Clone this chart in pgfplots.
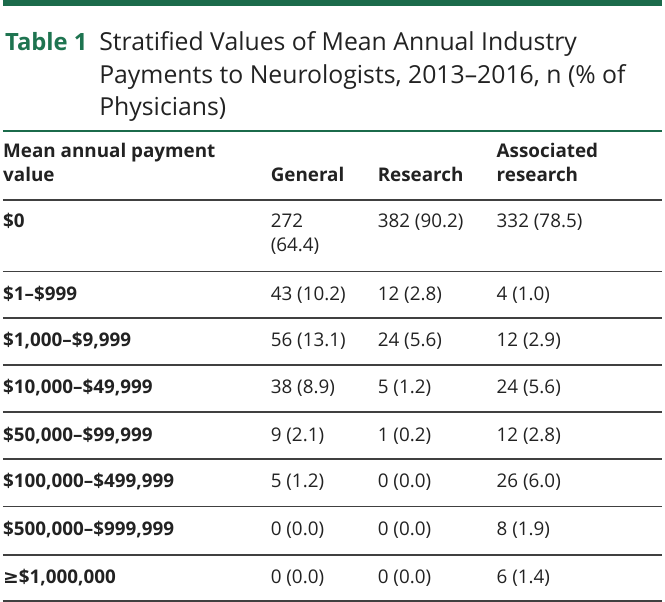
\documentclass[border=0pt]{standalone}
\usepackage{pgfplots}
\pgfplotsset{compat=1.18}
\usepackage{fontspec}
\setmainfont{Open Sans}
\newfontfamily\symfont{DejaVu Sans}
\definecolor{jgreen}{HTML}{1B6B4B}
\definecolor{tgreen}{HTML}{1E7450}
\definecolor{rule}{HTML}{404040}
\definecolor{txt}{HTML}{222222}
\begin{document}
\begin{tikzpicture}
\begin{axis}[width=665bp, height=608bp, scale only axis,
  xmin=0, xmax=665, ymin=0, ymax=608, y dir=reverse,
  hide axis, clip=false]
% rules
\addplot[jgreen, line width=6bp] coordinates {(0,3) (665,3)};
\addplot[jgreen, line width=2bp] coordinates {(0,132) (665,132)};
\addplot[rule, line width=1.8bp] coordinates {(0,202) (665,202)};
\addplot[rule, line width=1.8bp] coordinates {(0,274) (665,274)};
\addplot[rule, line width=1.8bp] coordinates {(0,321) (665,321)};
\addplot[rule, line width=1.8bp] coordinates {(0,368) (665,368)};
\addplot[rule, line width=1.8bp] coordinates {(0,416) (665,416)};
\addplot[rule, line width=1.8bp] coordinates {(0,463) (665,463)};
\addplot[rule, line width=1.8bp] coordinates {(0,511) (665,511)};
\addplot[rule, line width=1.8bp] coordinates {(0,560) (665,560)};
\addplot[rule, line width=1.8bp] coordinates {(0,606.5) (665,606.5)};
% title
\addplot[draw=none, nodes near coords, point meta=explicit symbolic,
  every node near coord/.style={anchor=base west, inner sep=0pt, text=tgreen, font=\fontsize{24bp}{28bp}\selectfont\bfseries}]
  table[col sep=semicolon, meta=t] {
x;y;t
2;51;Table 1
};
\addplot[draw=none, nodes near coords, point meta=explicit symbolic,
  every node near coord/.style={anchor=base west, inner sep=0pt, text=txt, font=\fontsize{25bp}{29bp}\selectfont}]
  table[col sep=semicolon, meta=t] {
x;y;t
97;51;Stratified Values of Mean Annual Industry
97;84;Payments to Neurologists, 2013–2016, n (\% of
97;117;Physicians)
};
% header
\addplot[draw=none, nodes near coords, point meta=explicit symbolic,
  every node near coord/.style={anchor=base west, inner sep=0pt, text=txt, font=\fontsize{19bp}{22bp}\selectfont\bfseries}]
  table[col sep=semicolon, meta=t] {
x;y;t
0;159;Mean annual payment
0;183;value
270;183;General
378;183;Research
498;159;Associated
498;183;research
};
% row labels
\addplot[draw=none, nodes near coords, point meta=explicit symbolic,
  every node near coord/.style={anchor=base west, inner sep=0pt, text=txt, font=\fontsize{19bp}{22bp}\selectfont\bfseries}]
  table[col sep=semicolon, meta=t] {
x;y;t
0;230;\$0
0;303;\$1–\$999
0;350;\$1,000–\$9,999
0;397;\$10,000–\$49,999
0;445;\$50,000–\$99,999
0;492;\$100,000–\$499,999
0;540;\$500,000–\$999,999
0;589;{\symfont ≥}\$1,000,000
};
% values
\addplot[draw=none, nodes near coords, point meta=explicit symbolic,
  every node near coord/.style={anchor=base west, inner sep=0pt, text=txt, font=\fontsize{19bp}{22bp}\selectfont}]
  table[col sep=semicolon, meta=t] {
x;y;t
270;230;272
270;254;(64.4)
378;230;382 (90.2)
498;230;332 (78.5)
270;303;43 (10.2)
378;303;12 (2.8)
498;303;4 (1.0)
270;350;56 (13.1)
378;350;24 (5.6)
498;350;12 (2.9)
270;397;38 (8.9)
378;397;5 (1.2)
498;397;24 (5.6)
270;445;9 (2.1)
378;445;1 (0.2)
498;445;12 (2.8)
270;492;5 (1.2)
378;492;0 (0.0)
498;492;26 (6.0)
270;540;0 (0.0)
378;540;0 (0.0)
498;540;8 (1.9)
270;589;0 (0.0)
378;589;0 (0.0)
498;589;6 (1.4)
};
\end{axis}
\end{tikzpicture}
\end{document}
